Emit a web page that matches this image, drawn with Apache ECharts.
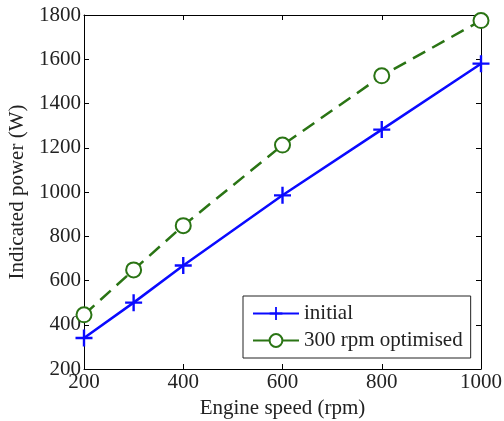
<!DOCTYPE html>
<html>
<head>
<meta charset="utf-8">
<script src="https://cdn.jsdelivr.net/npm/echarts@6/dist/echarts.min.js"></script>
<style>
  html, body { margin: 0; padding: 0; background: #fff; }
  #chart { width: 504px; height: 421px; }
</style>
</head>
<body>
<div id="chart"></div>
<script>
// engine speed (rpm)
const speeds = [200, 300, 400, 600, 800, 1000];
// indicated power (W)
const initialPower = [340, 500, 668, 985, 1282, 1580];
const optimisedPower = [445, 648, 848, 1212, 1525, 1775];
const xTicks = [200, 400, 600, 800, 1000];
const yTicks = [200, 400, 600, 800, 1000, 1200, 1400, 1600, 1800];

const font = 'Liberation Serif';
const blue = '#0a0aff';
const green = '#2a7414';
// plus marker drawn as a filled shape
const plus = 'path://M-0.14,-1H0.14V-0.14H1V0.14H0.14V1H-0.14V0.14H-1V-0.14H-0.14Z';

const pair = (xs, ys) => xs.map((x, i) => [x, ys[i]]);

const chart = echarts.init(document.getElementById('chart'));

const axisCommon = {
  axisLine: { show: true, onZero: false, lineStyle: { color: '#000', width: 1 } },
  axisTick: { show: true, inside: true, length: 5, lineStyle: { color: '#000' } },
  splitLine: { show: false }
};
const labelStyle = { fontFamily: font, fontSize: 21, color: '#222', margin: 3, formatter: v => String(v) };

chart.setOption({
  animation: false,
  backgroundColor: '#fff',
  grid: { left: 84, right: 23, top: 15, bottom: 52, containLabel: false, outerBoundsMode: 'none' },
  xAxis: [
    Object.assign({
      type: 'value', min: xTicks[0], max: xTicks[xTicks.length - 1], interval: 200,
      name: 'Engine speed (rpm)', nameLocation: 'middle', nameGap: 27,
      nameTextStyle: { fontFamily: font, fontSize: 21, color: '#222' },
      axisLabel: labelStyle
    }, axisCommon),
    Object.assign({
      type: 'value', min: xTicks[0], max: xTicks[xTicks.length - 1], interval: 200, position: 'top',
      axisLabel: { show: false }
    }, axisCommon)
  ],
  yAxis: [
    Object.assign({
      type: 'value', min: yTicks[0], max: yTicks[yTicks.length - 1], interval: 200,
      name: 'Indicated power (W)', nameLocation: 'middle', nameGap: 55,
      nameTextStyle: { fontFamily: font, fontSize: 21, color: '#222' },
      axisLabel: labelStyle
    }, axisCommon),
    Object.assign({
      type: 'value', min: yTicks[0], max: yTicks[yTicks.length - 1], interval: 200, position: 'right',
      axisLabel: { show: false }
    }, axisCommon)
  ],
  legend: {
    left: 243, top: 296, orient: 'vertical',
    backgroundColor: '#fff', borderColor: '#222', borderWidth: 1,
    padding: [7, 8, 7, 9], itemGap: 6, itemWidth: 46, itemHeight: 16,
    textStyle: { fontFamily: font, fontSize: 21, color: '#222' },
    data: [
      { name: 'initial' },
      { name: '300 rpm optimised', lineStyle: { type: 'solid' } }
    ]
  },
  series: [
    {
      name: 'initial', type: 'line', data: pair(speeds, initialPower),
      symbol: plus, symbolSize: 17,
      lineStyle: { color: blue, width: 2.5 },
      itemStyle: { color: blue }
    },
    {
      name: '300 rpm optimised', type: 'line', data: pair(speeds, optimisedPower),
      symbol: 'emptyCircle', symbolSize: 15,
      lineStyle: { color: green, width: 2.5, type: [14, 8] },
      itemStyle: { color: green, borderColor: green, borderWidth: 2.5 }
    }
  ]
});
</script>
</body>
</html>
